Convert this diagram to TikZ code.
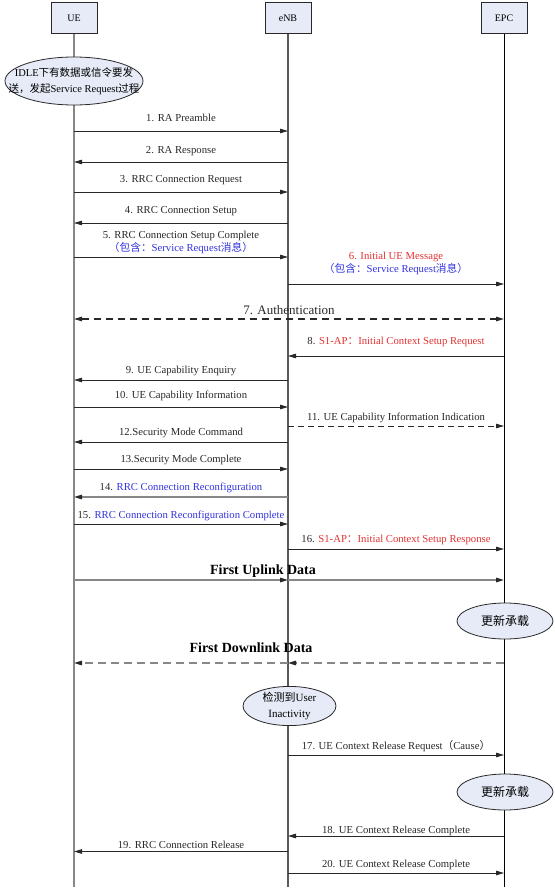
\documentclass[tikz,border=0pt]{standalone}
\usepackage{fontspec}
\usepackage{tikz}
\setmainfont{Liberation Serif}
\newfontfamily\cjk{Noto Sans CJK SC}
\usetikzlibrary{shapes.geometric, arrows.meta, positioning, calc}

\definecolor{boxfill}{RGB}{230,235,247}
\definecolor{msgred}{RGB}{226,50,50}
\definecolor{msgblue}{RGB}{50,50,222}
\definecolor{linegray}{RGB}{135,135,135}
\definecolor{inkgray}{RGB}{40,40,40}

\begin{document}
\begin{tikzpicture}[
    x=1pt, y=-1pt,
    >={Triangle[length=8pt,width=4.5pt]},
    entity/.style={rectangle, draw=inkgray, fill=boxfill, line width=0.8pt, minimum width=46pt, minimum height=31pt, inner sep=0pt, font=\fontsize{10}{12}\selectfont},
    state/.style={ellipse, draw=inkgray, fill=boxfill, line width=0.8pt, inner sep=0pt, align=center},
    lifeline/.style={line width=1.2pt},
    msg/.style={->, line width=0.8pt, inkgray},
    dmsg/.style={msg, dash pattern=on 6pt off 4pt},
    graymsg/.style={msg, linegray, line width=1.4pt, >={Triangle[length=8pt,width=4.5pt,color=inkgray]}},
    msgtext/.style={font=\fontsize{10.7}{13}\selectfont, text=inkgray, anchor=base, inner sep=0pt},
    bigtext/.style={font=\fontsize{14}{16}\selectfont\bfseries, text=black, anchor=base, inner sep=0pt}
]
\useasboundingbox (0,0) rectangle (554,891);

% entities
\node[entity] (ue) at (74,18) {UE};
\node[entity] (enb) at (288,18) {eNB};
\node[entity] (epc) at (504,18) {EPC};

% rows of the messages
\foreach \n/\y in {1/131, 2/162, 3/192, 4/223, 5/257, 6/284, 7/319, 8/356, 9/380, 10/407,
                   11/426, 12/442, 13/469, 14/497, 15/524, 16/549, up/580, down/663,
                   17/755, 18/836, 19/851.5, 20/873}
    \coordinate (r\n) at (0,\y);
\coordinate (bottom) at (0,887);

% lifelines
\draw[lifeline, linegray] (ue) -- (ue |- bottom);
\draw[lifeline, black!65] (enb) -- (enb |- bottom);
\draw[lifeline, black, line width=1pt] (epc) -- (epc |- bottom);

% states
\node[state, minimum width=138pt, minimum height=48pt, font=\fontsize{10.5}{16.5}\selectfont] (idle) at (74,81)
    {\makebox[0pt]{IDLE{\cjk 下有数据或信令要发}}\\\makebox[0pt]{{\cjk 送，发起}Service Request{\cjk 过程}}};
\node[state, minimum width=96pt, minimum height=36pt, font=\fontsize{12}{14}\selectfont\cjk] (upd1) at (505,621) {更新承载};
\node[state, minimum width=93pt, minimum height=38pt, font=\fontsize{11}{16}\selectfont] (inact) at (289.5,706)
    {{\cjk 检测到}User\\Inactivity};
\node[state, minimum width=96pt, minimum height=36pt, font=\fontsize{12}{14}\selectfont\cjk] (upd2) at (505,792) {更新承载};

% messages
\draw[msg] (ue |- r1) -- (enb |- r1) node[midway, msgtext, yshift=10pt] {1. RA Preamble};
\draw[msg] (enb |- r2) -- (ue |- r2) node[midway, msgtext, yshift=9pt] {2. RA Response};
\draw[msg] (ue |- r3) -- (enb |- r3) node[midway, msgtext, yshift=9.5pt] {3. RRC Connection Request};
\draw[msg] (enb |- r4) -- (ue |- r4) node[midway, msgtext, yshift=9.5pt] {4. RRC Connection Setup};
\draw[msg] (ue |- r5) -- (enb |- r5)
    node[midway, msgtext, yshift=19pt] {5. RRC Connection Setup Complete}
    node[midway, msgtext, yshift=6pt, text=msgblue] {{\cjk （包含：}Service Request{\cjk 消息）}};
\draw[msg] (enb |- r6) -- (epc |- r6)
    node[midway, msgtext, yshift=25pt, text=msgred] {6. Initial UE Message}
    node[midway, msgtext, yshift=11.5pt, text=msgblue] {{\cjk （包含：}Service Request{\cjk 消息）}};
\draw[msg, <->, line width=1.1pt, dash pattern=on 7pt off 5pt] (ue |- r7) -- (epc |- r7)
    node[midway, msgtext, yshift=5pt, font=\fontsize{13}{15}\selectfont] {7. Authentication};
\draw[msg] (epc |- r8) -- (enb |- r8)
    node[midway, msgtext, yshift=12pt] {8. {\color{msgred}S1-AP{\cjk ：}Initial Context Setup Request}};
\draw[msg] (enb |- r9) -- (ue |- r9) node[midway, msgtext, yshift=6.5pt] {9. UE Capability Enquiry};
\draw[msg] (ue |- r10) -- (enb |- r10) node[midway, msgtext, yshift=9pt] {10. UE Capability Information};
\draw[dmsg] (enb |- r11) -- (epc |- r11) node[midway, msgtext, yshift=5.5pt] {11. UE Capability Information Indication};
\draw[msg] (enb |- r12) -- (ue |- r12) node[midway, msgtext, yshift=6.5pt] {12.Security Mode Command};
\draw[msg] (ue |- r13) -- (enb |- r13) node[midway, msgtext, yshift=7pt] {13.Security Mode Complete};
\draw[graymsg] (enb |- r14) -- (ue |- r14)
    node[midway, msgtext, yshift=6.5pt] {14. {\color{msgblue}RRC Connection Reconfiguration}};
\draw[msg] (ue |- r15) -- (enb |- r15)
    node[midway, msgtext, yshift=6pt] {15. {\color{msgblue}RRC Connection Reconfiguration Complete}};
\draw[msg] (enb |- r16) -- (epc |- r16)
    node[midway, msgtext, yshift=7pt] {16. {\color{msgred}S1-AP{\cjk ：}Initial Context Setup Response}};

% data
\draw[graymsg] (ue |- rup) -- (enb |- rup);
\draw[graymsg] (enb |- rup) -- (epc |- rup);
\node[bigtext] (uplink) at (263,574.7) {First Uplink Data};
\draw[graymsg, dash pattern=on 8pt off 5pt] (epc |- rdown) -- (enb |- rdown);
\draw[graymsg, dash pattern=on 8pt off 5pt] (enb |- rdown) -- (ue |- rdown);
\node[bigtext] (downlink) at (251,652.7) {First Downlink Data};

% release
\draw[msg] (enb |- r17) -- (epc |- r17)
    node[midway, msgtext, yshift=5.7pt] {17. UE Context Release Request{\cjk （}Cause{\cjk ）}};
\draw[msg] (epc |- r18) -- (enb |- r18) node[midway, msgtext, yshift=3pt] {18. UE Context Release Complete};
\draw[msg] (enb |- r19) -- (ue |- r19) node[midway, msgtext, yshift=3pt] {19. RRC Connection Release};
\draw[msg] (enb |- r20) -- (epc |- r20) node[midway, msgtext, yshift=6pt] {20. UE Context Release Complete};
\end{tikzpicture}
\end{document}
